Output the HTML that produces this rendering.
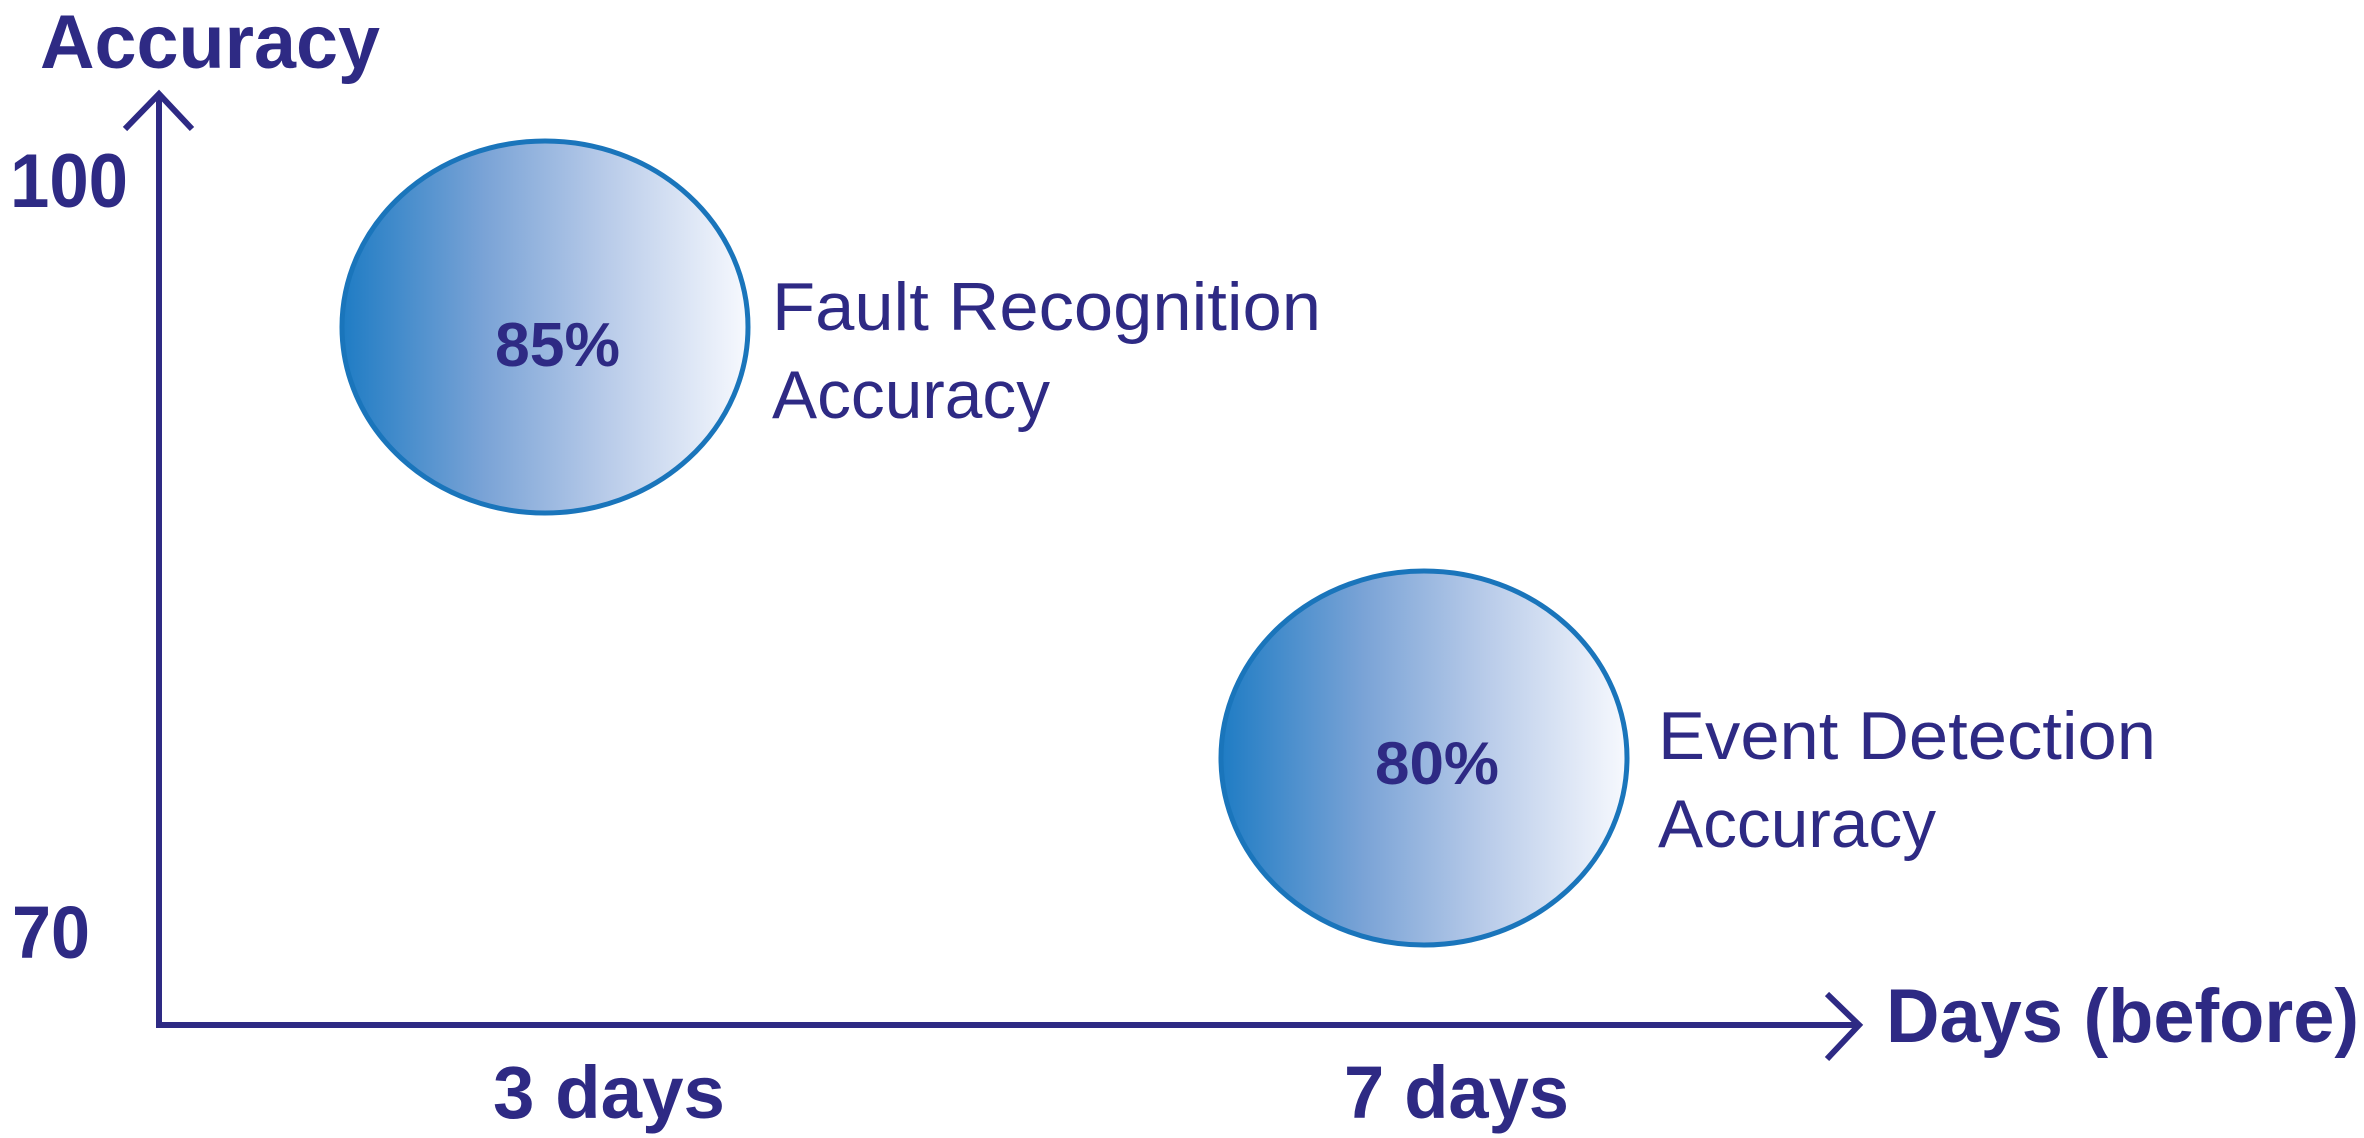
<!DOCTYPE html>
<html><head><meta charset="utf-8"><style>
html,body{margin:0;padding:0;background:#fff;}
svg{display:block;}
</style></head><body>
<svg width="2364" height="1138" viewBox="0 0 2364 1138" xmlns="http://www.w3.org/2000/svg">
<defs>
<linearGradient id="g" x1="0" y1="0" x2="1" y2="0">
<stop offset="0" stop-color="#1f7cc4"/>
<stop offset="0.35" stop-color="#7aa3d6"/>
<stop offset="0.65" stop-color="#b8cbe9"/>
<stop offset="1" stop-color="#f7f9fe"/>
</linearGradient>
</defs>
<g fill="#2e2a84" font-family="'Liberation Sans', sans-serif">
<text x="40" y="68" font-size="76" font-weight="bold" textLength="340" lengthAdjust="spacingAndGlyphs">Accuracy</text>
<text x="10" y="207" font-size="76" font-weight="bold" textLength="118" lengthAdjust="spacingAndGlyphs">100</text>
<text x="12" y="958" font-size="74" font-weight="bold" textLength="78" lengthAdjust="spacingAndGlyphs">70</text>
<text x="493" y="1118" font-size="74" font-weight="bold" textLength="232" lengthAdjust="spacingAndGlyphs">3 days</text>
<text x="1344" y="1118" font-size="74" font-weight="bold" textLength="225" lengthAdjust="spacingAndGlyphs">7 days</text>
<text x="1886" y="1042" font-size="76" font-weight="bold" textLength="473" lengthAdjust="spacingAndGlyphs">Days (before)</text>
</g>
<g stroke="#2e2a84" stroke-width="6" fill="none">
<line x1="159" y1="96" x2="159" y2="1028"/>
<line x1="156" y1="1025" x2="1856" y2="1025"/>
<polyline points="125,129 159,94 192,129"/>
<polyline points="1827,994 1859,1025 1827,1059"/>
</g>
<ellipse cx="545" cy="327" rx="203" ry="186" fill="url(#g)" stroke="#1a75bb" stroke-width="5"/>
<ellipse cx="1424" cy="758" rx="203" ry="187" fill="url(#g)" stroke="#1a75bb" stroke-width="5"/>
<g fill="#2e2a84" font-family="'Liberation Sans', sans-serif">
<text x="495" y="366" font-size="62" font-weight="bold" textLength="125" lengthAdjust="spacingAndGlyphs">85%</text>
<text x="1375" y="784" font-size="60" font-weight="bold" textLength="124" lengthAdjust="spacingAndGlyphs">80%</text>
<text x="772" y="330" font-size="68" textLength="549" lengthAdjust="spacingAndGlyphs">Fault Recognition</text>
<text x="772" y="418" font-size="68" textLength="278" lengthAdjust="spacingAndGlyphs">Accuracy</text>
<text x="1658" y="759" font-size="68" textLength="498" lengthAdjust="spacingAndGlyphs">Event Detection</text>
<text x="1658" y="847" font-size="68" textLength="278" lengthAdjust="spacingAndGlyphs">Accuracy</text>
</g>
</svg>
</body></html>
